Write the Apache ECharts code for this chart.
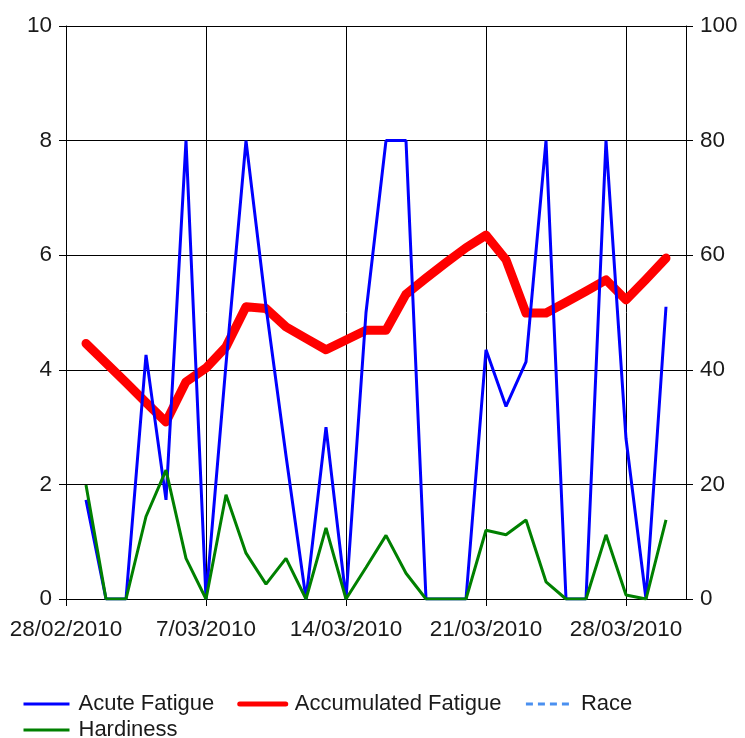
<!DOCTYPE html>
<html>
<head>
<meta charset="utf-8">
<script src="https://cdn.jsdelivr.net/npm/echarts@6/dist/echarts.min.js"></script>
<style>
html,body{margin:0;padding:0;background:#fff;}
#chart{width:745px;height:738px;}
</style>
</head>
<body>
<div id="chart"></div>
<script>
// Dates of the daily points
const dates = ['2010-03-01','2010-03-02','2010-03-03','2010-03-04','2010-03-05','2010-03-06','2010-03-07',
  '2010-03-08','2010-03-09','2010-03-10','2010-03-11','2010-03-12','2010-03-13','2010-03-14',
  '2010-03-15','2010-03-16','2010-03-17','2010-03-18','2010-03-19','2010-03-20','2010-03-21',
  '2010-03-22','2010-03-23','2010-03-24','2010-03-25','2010-03-26','2010-03-27','2010-03-28',
  '2010-03-29','2010-03-30'];
const axisStart = '2010-02-28';
const axisEnd = '2010-03-31';
const xTickLabels = ['28/02/2010','7/03/2010','14/03/2010','21/03/2010','28/03/2010'];

const acuteFatigue = [1.73,0,0,4.26,1.73,8,0,4.1,8,5.1,2.5,0,3.0,0,5.0,8,8,0,0,0,4.35,3.36,4.14,8,0,0,8,2.8,0,5.1];
const accumulatedFatigue = [44.6,41.2,37.8,34.3,30.9,37.9,40.3,44.0,51.0,50.7,47.5,45.5,43.5,45.2,46.9,46.9,53.2,56.0,58.7,61.3,63.5,59.2,49.9,49.9,51.8,53.7,55.7,52.2,55.8,59.5];
const race = [];
const hardiness = [1.99,0,0,1.44,2.25,0.71,0,1.82,0.80,0.26,0.71,0,1.24,0,0.55,1.11,0.45,0,0,0,1.2,1.12,1.38,0.30,0,0,1.12,0.07,0,1.38];

const DAY = 86400000;
const t0 = Date.parse(axisStart + 'T00:00:00Z');
const dayOf = d => (Date.parse(d + 'T00:00:00Z') - t0) / DAY;
const pairs = vals => vals.map((v, i) => [dayOf(dates[i]), v]);

const FONT = '"Liberation Sans", Arial, sans-serif';
const TXT = '#1a1a1a';
const FS = 22.5;
const LFS = 22;
const hidden = {opacity: 0};

const chart = echarts.init(document.getElementById('chart'), null, {renderer: 'canvas'});
chart.setOption({
  animation: false,
  backgroundColor: '#fff',
  grid: {left: 66, right: 59, top: 26, bottom: 139, containLabel: false},
  legend: [
    {
      left: 17, top: 688, orient: 'horizontal', itemGap: 23, itemWidth: 46, itemHeight: 14,
      textStyle: {fontFamily: FONT, fontSize: LFS, color: TXT, padding: [0,0,0,4]},
      data: [
        {name: 'Acute Fatigue', lineStyle: {width: 3}, itemStyle: hidden},
        {name: 'Accumulated Fatigue', lineStyle: {width: 5}, itemStyle: hidden},
        {name: 'Race', lineStyle: {width: 3, type: [7,5]}, itemStyle: hidden}
      ]
    },
    {
      left: 17, top: 714, orient: 'horizontal', itemGap: 23, itemWidth: 46, itemHeight: 14,
      textStyle: {fontFamily: FONT, fontSize: LFS, color: TXT, padding: [0,0,0,4]},
      data: [{name: 'Hardiness', lineStyle: {width: 3}, itemStyle: hidden}]
    }
  ],
  xAxis: {
    type: 'value', min: 0, max: dayOf(axisEnd), interval: 7,
    axisLine: {show: true, lineStyle: {color: '#000', width: 1}},
    axisTick: {show: true, inside: false, length: 7, lineStyle: {color: '#000'}},
    axisLabel: {fontFamily: FONT, fontSize: FS, color: TXT, margin: 19,
      formatter: v => xTickLabels[Math.round(v / 7)] || ''},
    splitLine: {show: true, lineStyle: {color: '#000', width: 1}}
  },
  yAxis: [
    {
      type: 'value', min: 0, max: 10, interval: 2, position: 'left',
      axisLine: {show: true, lineStyle: {color: '#000', width: 1}},
      axisTick: {show: true, inside: false, length: 7, lineStyle: {color: '#000'}},
      axisLabel: {fontFamily: FONT, fontSize: FS, color: TXT, margin: 14},
      splitLine: {show: true, lineStyle: {color: '#000', width: 1}}
    },
    {
      type: 'value', min: 0, max: 100, interval: 20, position: 'right',
      axisLine: {show: true, lineStyle: {color: '#000', width: 1}},
      axisTick: {show: true, inside: false, length: 7, lineStyle: {color: '#000'}},
      axisLabel: {fontFamily: FONT, fontSize: FS, color: TXT, margin: 14},
      splitLine: {show: false}
    }
  ],
  series: [
    {name: 'Accumulated Fatigue', type: 'line', yAxisIndex: 1, data: pairs(accumulatedFatigue),
      symbol: 'none', color: '#ff0000', lineStyle: {width: 9, color: '#ff0000', join: 'round', cap: 'round'}, z: 2},
    {name: 'Acute Fatigue', type: 'line', yAxisIndex: 0, data: pairs(acuteFatigue),
      symbol: 'none', color: '#0000ff', lineStyle: {width: 3, color: '#0000ff'}, z: 3},
    {name: 'Race', type: 'line', yAxisIndex: 0, data: race,
      symbol: 'none', color: '#4a90f0', lineStyle: {width: 3, color: '#4a90f0', type: [7,5]}, z: 3},
    {name: 'Hardiness', type: 'line', yAxisIndex: 0, data: pairs(hardiness),
      symbol: 'none', color: '#008000', lineStyle: {width: 3, color: '#008000'}, z: 4}
  ]
});
</script>
</body>
</html>
